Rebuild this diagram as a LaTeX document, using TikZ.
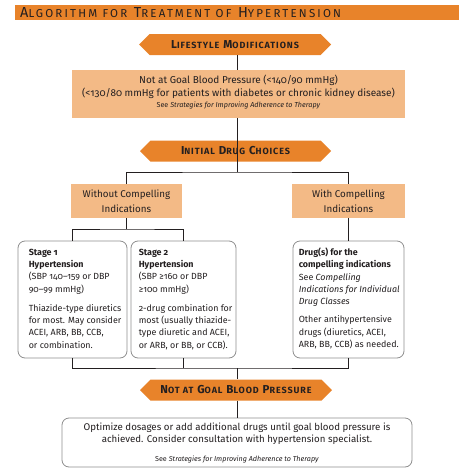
\documentclass[tikz,border=0pt]{standalone}
\usepackage{fontspec}
\setmainfont{Fira Sans}[Numbers=OldStyle]
\usetikzlibrary{shapes.symbols}
\definecolor{hdr}{HTML}{E8832A}
\definecolor{lite}{HTML}{F3BA86}
\definecolor{ink}{HTML}{231F20}
\definecolor{edge}{HTML}{8E8E8E}
\newcommand\smc[1]{{\fontsize{9}{9}\selectfont #1}}
\newcommand\smt[1]{{\fontsize{11.5}{11.5}\selectfont #1}}
\tikzset{
  hexa/.style={signal, signal to=west and east, signal pointer angle=90, fill=hdr, draw=none,
    minimum height=21pt, inner sep=0pt, text=ink, font=\bfseries\fontsize{11.5}{11.5}\selectfont\addfontfeature{LetterSpace=10}},
  litebox/.style={rectangle, fill=lite, draw=none, inner sep=0pt, align=center, text=ink},
  roundbox/.style={rectangle, rounded corners=7pt, draw=edge, line width=0.8pt, fill=white, inner sep=0pt},
  boxtext/.style={anchor=north west, inner sep=0pt, align=left, text=ink, font=\fontsize{8.9}{12.3}\selectfont},
  conn/.style={draw=ink, line width=0.9pt}
}
\begin{document}
\begin{tikzpicture}[x=1pt,y=-1pt]
\useasboundingbox (0,0) rectangle (472,474);
% header
\node[rectangle, fill=hdr, minimum width=444pt, minimum height=15pt, inner sep=0pt] (hdr) at (237,12.5) {};
\node[anchor=west, inner sep=0pt, text=ink, font=\fontsize{14.5}{14.5}\selectfont\addfontfeature{LetterSpace=19}] (title) at (20,13)
  {A\smt{LGORITHM FOR} T\smt{REATMENT OF} H\smt{YPERTENSION}};
% hexagons
\node[hexa, minimum width=192pt] (lm) at (235,44.5) {L\smc{IFESTYLE} M\smc{ODIFICATIONS}};
\node[hexa, minimum width=191pt] (idc) at (235.5,151) {I\smc{NITIAL} D\smc{RUG} C\smc{HOICES}};
\node[hexa, minimum width=192pt] (ngbp) at (236,390) {N\smc{OT AT} G\smc{OAL} B\smc{LOOD} P\smc{RESSURE}};
% goal box
\node[litebox, minimum width=333pt, minimum height=48pt] (goal) at (238.5,94) {};
\node[inner sep=0pt, align=center, text=ink, font=\fontsize{10}{13.5}\selectfont] (goalt) at (238.5,92)
  {Not at Goal Blood Pressure (<140/90 mmHg)\\(<130/80 mmHg for patients with diabetes or chronic kidney disease)\\[-3pt]
   {\fontsize{7.2}{8}\selectfont See \textit{Strategies for Improving Adherence to Therapy}}};
% compelling boxes
\node[litebox, minimum width=111pt, minimum height=34pt, font=\fontsize{9.8}{14.5}\selectfont] (without) at (126.5,201)
  {Without Compelling\\Indications};
\node[litebox, minimum width=113pt, minimum height=34pt, font=\fontsize{9.8}{14.5}\selectfont] (with) at (348.5,201)
  {With Compelling\\Indications};
% stage boxes
\node[roundbox, minimum width=109pt, minimum height=117pt] (s1) at (72.5,299.5) {};
\node[roundbox, minimum width=105pt, minimum height=117pt] (s2) at (183.5,299.5) {};
\node[roundbox, minimum width=111pt, minimum height=117pt] (s3) at (348.5,299.5) {};
\node[boxtext] (s1t) at ([xshift=11pt,yshift=-8pt]s1.north west)
  {\textbf{Stage 1}\\ \textbf{Hypertension}\\ (SBP 140–159 or DBP\\ 90–99 mmHg)\\[7pt]
   Thiazide-type diuretics\\ for most. May consider\\ ACEI, ARB, BB, CCB,\\ or combination.};
\node[boxtext] (s2t) at ([xshift=8pt,yshift=-8pt]s2.north west)
  {\textbf{Stage 2}\\ \textbf{Hypertension}\\ (SBP ≥160 or DBP\\ ≥100 mmHg)\\[7pt]
   2-drug combination for\\ most (usually thiazide-\\ type diuretic and ACEI,\\ or ARB, or BB, or CCB).};
\node[boxtext] (s3t) at ([xshift=6pt,yshift=-7pt]s3.north west)
  {\textbf{Drug(s) for the}\\ \textbf{compelling indications}\\ See \textit{Compelling}\\ \textit{Indications for Individual}\\ \textit{Drug Classes}\\[6pt]
   Other antihypertensive\\ drugs (diuretics, ACEI,\\ ARB, BB, CCB) as needed.};
% final box
\node[roundbox, minimum width=350pt, minimum height=49pt] (final) at (237,442.5) {};
\node[inner sep=0pt, align=center, text=ink, font=\fontsize{9.7}{12}\selectfont] (finalt) at (237,434)
  {Optimize dosages or add additional drugs until goal blood pressure is\\achieved. Consider consultation with hypertension specialist.};
\node[inner sep=0pt, text=ink, font=\fontsize{7.2}{8}\selectfont] (finals) at (237,459)
  {See \textit{Strategies for Improving Adherence to Therapy}};
% connectors
\coordinate (j1) at (237,172);
\coordinate (j2) at (126.5,229);
\coordinate (j3) at (237,368);
\draw[conn] (lm.south -| j1) -- (goal.north -| j1);
\draw[conn] (goal.south -| j1) -- (idc.south -| j1);
\draw[conn] (idc.south -| j1) -- (j1);
\draw[conn] (without.north) |- (j1) -| (with.north);
\draw[conn] (without.south) -- (j2);
\draw[conn] (s1.north) |- (j2) -| (s2.north);
\draw[conn] (with.south) -- (s3.north);
\draw[conn] (s1.south) |- (j3) -| (s3.south);
\draw[conn] (s2.south) -- (s2.south |- j3);
\draw[conn] (j3) -- (ngbp.north -| j3);
\draw[conn] (ngbp.south -| j3) -- (final.north -| j3);
\end{tikzpicture}
\end{document}
